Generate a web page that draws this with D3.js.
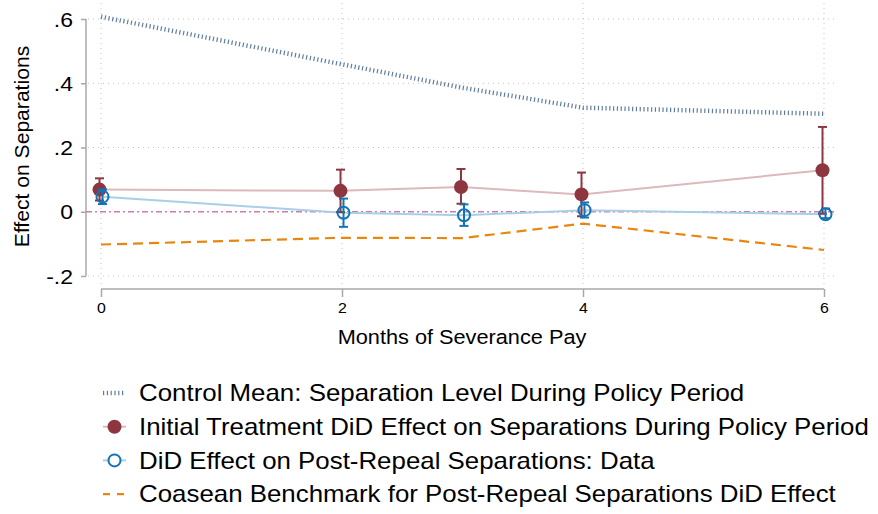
<!DOCTYPE html>
<html><head><meta charset="utf-8">
<script src="https://cdn.jsdelivr.net/npm/d3@7"></script>
<style>body{margin:0;background:#fff}svg{display:block;font-family:"Liberation Sans",Arial,sans-serif}</style>
</head><body><svg id="c" width="878" height="514"></svg>
<script>
// ---- data ----
const months = [0, 2, 3, 4, 6];
const xTicks = [0, 2, 4, 6];
const yTicks = [-0.2, 0, 0.2, 0.4, 0.6];
const yTickLabels = ["-.2", "0", ".2", ".4", ".6"];
const controlMean = [0.607, 0.459, 0.386, 0.324, 0.305];
const initialEffect = [0.069, 0.065, 0.077, 0.054, 0.129];
const initialLo = [0.035, -0.001, 0.025, -0.014, -0.006];
const initialHi = [0.104, 0.131, 0.133, 0.122, 0.264];
const postEffect = [0.047, -0.003, -0.011, 0.005, -0.008];
const postLo = [0.024, -0.047, -0.044, -0.018, -0.020];
const postHi = [0.069, 0.041, 0.023, 0.029, 0.010];
const coasean = [-0.102, -0.081, -0.082, -0.037, -0.119];
const legendLabels = [
  "Control Mean: Separation Level During Policy Period",
  "Initial Treatment DiD Effect on Separations During Policy Period",
  "DiD Effect on Post-Repeal Separations: Data",
  "Coasean Benchmark for Post-Repeal Separations DiD Effect"
];
const xTitle = "Months of Severance Pay";
const yTitle = "Effect on Separations";

// ---- styles ----
const C = {
  control: "#5f7d9e", maroon: "#8e3640", maroonLine: "#dcb9bd",
  blue: "#1274b6", blueLine: "#a9cfe8", orange: "#e8860f",
  ref: "#cc7cad", grid: "#c4c4c4", axis: "#a8a8a8"
};
const svg = d3.select("#c");
const x = d3.scaleLinear().domain([0, 6]).range([101, 824]);
const y = d3.scaleLinear().domain([-0.2, 0.6]).range([276, 19]);
const off = 1.5;

// grid
const g = svg.append("g");
g.selectAll(".hg").data(yTicks.filter(d => d !== 0)).join("line")
  .attr("x1", 88).attr("x2", 837).attr("y1", d => y(d)).attr("y2", d => y(d))
  .attr("stroke", C.grid).attr("stroke-width", 1).attr("stroke-dasharray", "1,4");
g.selectAll(".vg").data(xTicks).join("line")
  .attr("x1", d => x(d)).attr("x2", d => x(d)).attr("y1", 3).attr("y2", 287)
  .attr("stroke", C.grid).attr("stroke-width", 1).attr("stroke-dasharray", "1,4");

// axes
const ya = d3.axisLeft(y).tickValues(yTicks).tickFormat((d, i) => yTickLabels[i]).tickSize(5).tickPadding(8);
const yg = svg.append("g").attr("transform", "translate(86,0)").call(ya);
const xa = d3.axisBottom(x).tickValues(xTicks).tickFormat(d3.format("d")).tickSize(8).tickPadding(5);
const xg = svg.append("g").attr("transform", "translate(0,289)").call(xa);
[yg, xg].forEach(a => {
  a.select(".domain").attr("stroke", C.axis).attr("stroke-width", 1.5);
  a.selectAll(".tick line").attr("stroke", C.axis).attr("stroke-width", 1.5);
  a.selectAll("text").attr("fill", "#000").style("font-family", '"Liberation Sans",Arial,sans-serif');
});
yg.selectAll("text").style("font-size", "20px").attr("dy", "0.36em")
  .attr("x", 0).attr("transform", "translate(-13,0) scale(1.15,1)");
xg.selectAll("text").style("font-size", "15px")
  .attr("transform", "scale(1.06,1)").attr("x", 0);
xg.selectAll(".tick text").each(function(){ d3.select(this).attr("transform", "scale(1.06,1)"); });
yg.select(".domain").attr("d", `M0,${y(0.6)}V${y(-0.2)}`);
xg.select(".domain").attr("d", `M${x(0)},0H${x(6)}`);

svg.append("text").attr("transform", "translate(462,344) scale(1.06,1)").attr("text-anchor", "middle")
  .style("font-size", "20.5px").text(xTitle);
svg.append("text").attr("transform", `translate(29,${146.5}) rotate(-90) scale(1.03,1)`).attr("text-anchor", "middle")
  .style("font-size", "20.5px").text(yTitle);

const line = (vals, dx) => d3.line().x((d, i) => x(months[i]) + dx).y(d => y(d))(vals);

// reference line at 0
svg.append("line").attr("x1", 86).attr("x2", 837).attr("y1", y(0)).attr("y2", y(0))
  .attr("stroke", C.ref).attr("stroke-width", 1.5).attr("stroke-dasharray", "6,3,2,3");

// control mean
svg.append("path").attr("d", line(controlMean, 0)).attr("fill", "none")
  .attr("stroke", C.control).attr("stroke-width", 4.5).attr("stroke-dasharray", "1.2,2.6");
// coasean
svg.append("path").attr("d", line(coasean, 0)).attr("fill", "none")
  .attr("stroke", C.orange).attr("stroke-width", 2.2).attr("stroke-dasharray", "10,6");
// connecting lines
svg.append("path").attr("d", line(postEffect, off)).attr("fill", "none")
  .attr("stroke", C.blueLine).attr("stroke-width", 2);
svg.append("path").attr("d", line(initialEffect, -off)).attr("fill", "none")
  .attr("stroke", C.maroonLine).attr("stroke-width", 2);

function errbars(lo, hi, dx, color, w) {
  const gg = svg.append("g").attr("stroke", color).attr("stroke-width", 2);
  months.forEach((m, i) => {
    const cx = x(m) + dx;
    gg.append("line").attr("x1", cx).attr("x2", cx).attr("y1", y(lo[i])).attr("y2", y(hi[i]));
    [lo[i], hi[i]].forEach(v => gg.append("line").attr("x1", cx - w).attr("x2", cx + w).attr("y1", y(v)).attr("y2", y(v)));
  });
}
errbars(initialLo, initialHi, -off, C.maroon, 4.5);
svg.append("g").selectAll("circle").data(initialEffect).join("circle")
  .attr("cx", (d, i) => x(months[i]) - off).attr("cy", d => y(d)).attr("r", 7).attr("fill", C.maroon);
errbars(postLo, postHi, off, C.blue, 4.5);
svg.append("g").selectAll("circle").data(postEffect).join("circle")
  .attr("cx", (d, i) => x(months[i]) + off).attr("cy", d => y(d)).attr("r", 6)
  .attr("fill", "none").attr("stroke", C.blue).attr("stroke-width", 2);

// legend
const lg = svg.append("g");
const rowY = i => 393 + i * 33.7;
legendLabels.forEach((t, i) => {
  lg.append("text").attr("transform", `translate(139,${rowY(i)}) scale(1.125,1)`).attr("dy", "0.36em")
    .style("font-size", "23px").text(t);
});
lg.append("line").attr("x1", 103).attr("x2", 124).attr("y1", rowY(0)).attr("y2", rowY(0))
  .attr("stroke", C.control).attr("stroke-width", 4.5).attr("stroke-dasharray", "1.2,2.6");
lg.append("line").attr("x1", 103).attr("x2", 126).attr("y1", rowY(1)).attr("y2", rowY(1))
  .attr("stroke", C.maroonLine).attr("stroke-width", 2);
lg.append("circle").attr("cx", 114.5).attr("cy", rowY(1)).attr("r", 7).attr("fill", C.maroon);
lg.append("line").attr("x1", 103).attr("x2", 126).attr("y1", rowY(2)).attr("y2", rowY(2))
  .attr("stroke", C.blueLine).attr("stroke-width", 2);
lg.append("circle").attr("cx", 114.5).attr("cy", rowY(2)).attr("r", 6).attr("fill", "#fff")
  .attr("stroke", C.blue).attr("stroke-width", 2);
lg.append("line").attr("x1", 103).attr("x2", 128).attr("y1", rowY(3)).attr("y2", rowY(3))
  .attr("stroke", C.orange).attr("stroke-width", 2.2).attr("stroke-dasharray", "7,7");
</script></body></html>
